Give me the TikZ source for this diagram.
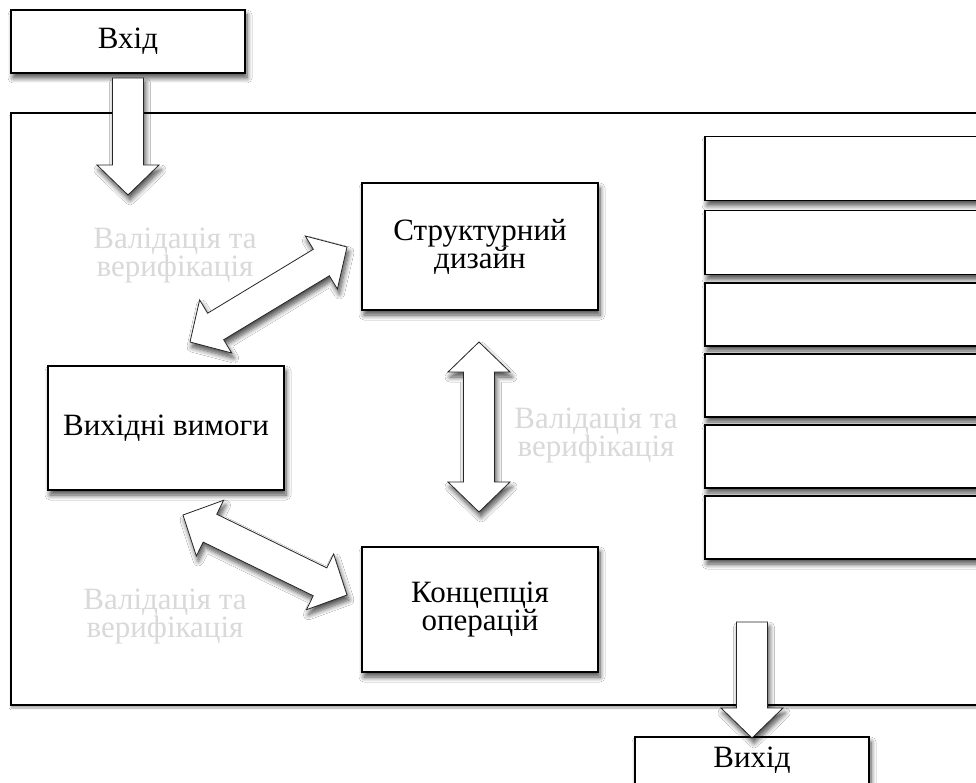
\documentclass[tikz,border=0pt]{standalone}
\usepackage{fontspec}
\setmainfont{Liberation Serif}
\usetikzlibrary{calc,shadows,shadows.blur}
\newcommand{\dblarrow}[2]{%
  \draw[barrow] (#1)
   -- ($(#1)!30pt!(#2)!31pt!90:(#2)$)
   -- ($(#1)!30pt!(#2)!15.5pt!90:(#2)$)
   -- ($(#2)!30pt!(#1)!15.5pt!-90:(#1)$)
   -- ($(#2)!30pt!(#1)!31pt!-90:(#1)$)
   -- (#2)
   -- ($(#2)!30pt!(#1)!31pt!90:(#1)$)
   -- ($(#2)!30pt!(#1)!15.5pt!90:(#1)$)
   -- ($(#1)!30pt!(#2)!15.5pt!-90:(#2)$)
   -- ($(#1)!30pt!(#2)!31pt!-90:(#2)$)
   -- cycle;}
\newcommand{\sglarrow}[2]{%
  \draw[barrow] ($(#1)!15.5pt!90:(#2)$)
   -- ($(#2)!30pt!(#1)!15.5pt!-90:(#1)$)
   -- ($(#2)!30pt!(#1)!31pt!-90:(#1)$)
   -- (#2)
   -- ($(#2)!30pt!(#1)!31pt!90:(#1)$)
   -- ($(#2)!30pt!(#1)!15.5pt!90:(#1)$)
   -- ($(#1)!15.5pt!-90:(#2)$)
   -- cycle;}
\tikzset{
  shd/.style={blur shadow={shadow xshift=2pt, shadow yshift=-5pt, shadow blur steps=8, shadow blur radius=5pt, shadow opacity=70}},
  box/.style={draw=black, line width=1.6pt, fill=white, shd, inner sep=0pt, align=center,
     font=\fontsize{31}{28}\selectfont},
  frame/.style={draw=black, line width=1.2pt, fill=white, blur shadow={shadow xshift=0pt, shadow yshift=-3pt, shadow blur steps=8, shadow opacity=35}},
  barrow/.style={draw=black!85, line width=0.8pt, fill=white, line join=miter, shd},
  vlabel/.style={text=black!15, align=center, font=\fontsize{31}{28}\selectfont}
}
\begin{document}
\begin{tikzpicture}[x=1pt,y=-1pt]
\clip (0,0) rectangle (976,783);
\fill[white] (0,0) rectangle (976,783);
% outer frame
\path[frame] (11,113) rectangle (1010,705);
% boxes
\node[box, minimum width=234pt, minimum height=63pt] (in) at (128,41.5) {Вхід};
\node[box, minimum width=236pt, minimum height=127pt] (sd) at (480,246.5) {Структурний\\дизайн};
\node[box, minimum width=236pt, minimum height=124pt] (req) at (166,428) {Вихідні вимоги};
\node[box, minimum width=236pt, minimum height=125pt] (conops) at (480,609.5) {Концепція\\операцій};
\node[box, minimum width=295pt, minimum height=64pt] (r1) at (852.5,168.5) {};
\node[box, minimum width=295pt, minimum height=64pt] (r2) at (852.5,242.5) {};
\node[box, minimum width=295pt, minimum height=63pt] (r3) at (852.5,314.5) {};
\node[box, minimum width=295pt, minimum height=63pt] (r4) at (852.5,385.5) {};
\node[box, minimum width=295pt, minimum height=63pt] (r5) at (852.5,456.5) {};
\node[box, minimum width=295pt, minimum height=63pt] (r6) at (852.5,527.5) {};
\node[box, minimum width=234pt, minimum height=63pt, text depth=22pt] (out) at (752,768.5) {Вихід};
% blurred labels
\node[vlabel] (v1) at (175,256) {Валідація та\\верифікація};
\node[vlabel] (v2) at (596,436) {Валідація та\\верифікація};
\node[vlabel] (v3) at (165,617) {Валідація та\\верифікація};
% arrow end points
\coordinate (inA) at (128,78);
\coordinate (inB) at (128,195);
\coordinate (outA) at (752,622);
\coordinate (outB) at (752,738);
\coordinate (d1a) at (190,342);
\coordinate (d1b) at (347,247);
\coordinate (d2a) at (183,515);
\coordinate (d2b) at (347,595);
\coordinate (vta) at (479,342);
\coordinate (vtb) at (479,512);
% arrows
\sglarrow{inA}{inB}
\sglarrow{outA}{outB}
\dblarrow{d1a}{d1b}
\dblarrow{d2a}{d2b}
\dblarrow{vta}{vtb}
\end{tikzpicture}
\end{document}
